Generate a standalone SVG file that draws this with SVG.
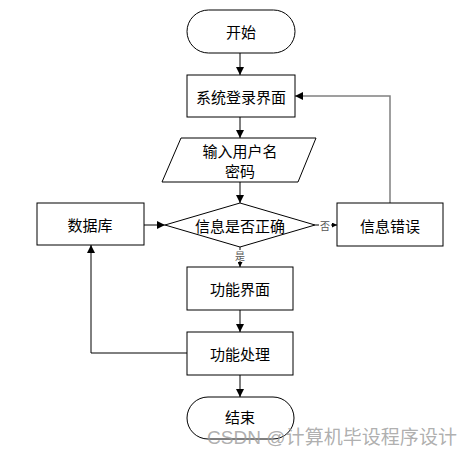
<svg xmlns="http://www.w3.org/2000/svg" width="475" height="455" viewBox="0 0 475 455">
<style>
.n{fill:#fff;stroke:#000;stroke-width:1}
.t{font-family:"Noto Sans CJK SC","Liberation Sans",sans-serif;font-size:15px;fill:#000;text-anchor:middle;dominant-baseline:central}
.c{fill:none;stroke:#000;stroke-width:1}
.g{stroke:#808080;stroke-width:1.5}
.l{font-family:"Noto Sans CJK SC","Liberation Sans",sans-serif;font-size:10px;fill:#555;text-anchor:middle;dominant-baseline:central}
.w{font-family:"Liberation Sans","Noto Sans CJK SC",sans-serif;font-size:19px;fill:#9a9a9a;fill-opacity:0.8}
</style>
<defs>
<marker id="a" viewBox="0 0 10 10" refX="10" refY="5" markerWidth="8" markerHeight="8" markerUnits="userSpaceOnUse" orient="auto">
<path d="M0,0L10,5L0,10z" fill="#000"/>
</marker>
<marker id="s" viewBox="0 0 10 10" refX="10" refY="5" markerWidth="5" markerHeight="5" markerUnits="userSpaceOnUse" orient="auto">
<path d="M0,0L10,5L0,10z" fill="#000"/>
</marker>
</defs>
<rect width="475" height="455" fill="#fff"/>
<g id="connectors">
<line class="c" x1="240" y1="53" x2="240" y2="75" marker-end="url(#a)"/>
<line class="c" x1="240" y1="117" x2="240" y2="138" marker-end="url(#a)"/>
<line class="c" x1="240" y1="182" x2="240" y2="203" marker-end="url(#a)"/>
<line class="c" x1="144" y1="225" x2="165" y2="225" marker-end="url(#a)"/>
<line class="c" x1="315" y1="225" x2="319" y2="225"/>
<line class="c" x1="331" y1="225" x2="337" y2="225" marker-end="url(#s)"/>
<polyline class="c g" points="390,203 390,96 295,96" marker-end="url(#a)"/>
<line class="c" x1="240" y1="247" x2="240" y2="250"/>
<line class="c" x1="240" y1="261" x2="240" y2="267" marker-end="url(#s)"/>
<line class="c" x1="240" y1="310" x2="240" y2="332" marker-end="url(#a)"/>
<polyline class="c" points="187,353 91,353 91,245" marker-end="url(#a)"/>
<line class="c" x1="240" y1="375" x2="240" y2="397" marker-end="url(#a)"/>
<text class="l" x="325" y="225">否</text>
<text class="l" x="240" y="255">是</text>
</g>
<g id="start">
<rect class="n" x="187" y="10" width="108" height="43" rx="21.5"/>
<text class="t" x="241" y="31">开始</text>
</g>
<g id="login">
<rect class="n" x="187" y="75" width="108" height="42"/>
<text class="t" x="241" y="96">系统登录界面</text>
</g>
<g id="input">
<polygon class="n" points="181,138 316,138 298,182 162,182"/>
<text class="t" x="240" y="150">输入用户名</text>
<text class="t" x="240" y="170">密码</text>
</g>
<g id="check">
<polygon class="n" points="240,203 315,225 240,247 165,225"/>
<text class="t" x="240" y="225">信息是否正确</text>
</g>
<g id="database">
<rect class="n" x="37" y="203" width="107" height="42"/>
<text class="t" x="90" y="224">数据库</text>
</g>
<g id="error">
<rect class="n" x="337" y="203" width="106" height="43"/>
<text class="t" x="390" y="225">信息错误</text>
</g>
<g id="funcui">
<rect class="n" x="187" y="267" width="106" height="43"/>
<text class="t" x="240" y="288">功能界面</text>
</g>
<g id="funcproc">
<rect class="n" x="187" y="332" width="106" height="43"/>
<text class="t" x="240" y="353">功能处理</text>
</g>
<g id="end">
<rect class="n" x="187" y="397" width="107" height="42" rx="21"/>
<text class="t" x="240" y="416">结束</text>
</g>
<text class="w" x="207" y="444" textLength="250" lengthAdjust="spacingAndGlyphs">CSDN @计算机毕设程序设计</text>
</svg>
